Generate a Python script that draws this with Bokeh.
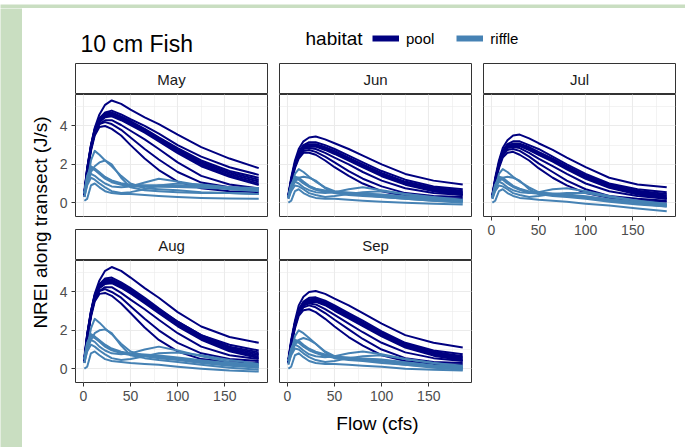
import math
from bokeh.plotting import figure
from bokeh.models import (Range1d, LinearAxis, Grid, SingleIntervalTicker, Label,
                          Legend, LegendItem)
from bokeh.layouts import row, column
from bokeh.embed import file_html
from bokeh.resources import INLINE

# ---------------- data ----------------
FLOW = [1, 4, 8, 12, 17, 23, 30, 40, 50, 65, 80, 100, 125, 155, 186]
MONTHS = ["May", "Jun", "Jul", "Aug", "Sep"]
HABITATS = ["pool", "riffle"]
TITLE = "10 cm Fish"
X_LABEL = "Flow (cfs)"
Y_LABEL = "NREI along transect (J/s)"

POOL_MAY = [
    [0.6, 1.8, 3.0, 3.9, 4.6, 5.1, 5.33, 5.15, 4.85, 4.45, 4.1, 3.55, 2.9, 2.3, 1.8],
    [0.5, 1.7, 2.9, 3.8, 4.4, 4.7, 4.8, 4.6, 4.35, 4.0, 3.6, 3.0, 2.4, 1.85, 1.45],
    [0.5, 1.8, 3.0, 3.85, 4.4, 4.65, 4.7, 4.5, 4.25, 3.85, 3.4, 2.85, 2.2, 1.65, 1.3],
    [0.45, 1.75, 2.95, 3.8, 4.35, 4.6, 4.65, 4.45, 4.2, 3.8, 3.35, 2.78, 2.12, 1.57, 1.2],
    [0.4, 1.7, 2.9, 3.75, 4.3, 4.55, 4.6, 4.4, 4.15, 3.75, 3.3, 2.72, 2.05, 1.5, 1.1],
    [0.35, 1.65, 2.85, 3.7, 4.25, 4.5, 4.55, 4.35, 4.1, 3.7, 3.25, 2.65, 1.98, 1.42, 1.0],
    [0.3, 1.6, 2.8, 3.65, 4.2, 4.45, 4.5, 4.3, 4.05, 3.65, 3.2, 2.58, 1.9, 1.35, 0.92],
    [0.5, 1.6, 2.8, 3.6, 4.1, 4.2, 4.1, 3.8, 3.4, 2.8, 2.25, 1.6, 1.05, 0.8, 0.7],
    [0.4, 1.5, 2.7, 3.5, 3.95, 4.0, 3.85, 3.5, 3.0, 2.3, 1.7, 1.1, 0.75, 0.6, 0.55],
    [0.4, 1.6, 2.8, 3.6, 4.1, 4.3, 4.3, 4.05, 3.75, 3.3, 2.8, 2.1, 1.4, 0.95, 0.75],
]
RIFFLE_MAY = [
    [0.5, 1.35, 1.85, 1.75, 1.55, 1.3, 1.12, 0.98, 0.9, 0.87, 0.87, 0.86, 0.82, 0.77, 0.72],
    [0.45, 1.3, 1.8, 1.7, 1.5, 1.25, 1.07, 0.93, 0.86, 0.83, 0.83, 0.82, 0.78, 0.73, 0.67],
    [0.55, 1.4, 1.9, 1.78, 1.58, 1.34, 1.16, 1.02, 0.94, 0.91, 0.91, 0.9, 0.86, 0.81, 0.76],
    [0.3, 1.0, 2.2, 2.7, 2.5, 2.2, 1.9, 1.4, 1.0, 0.75, 0.7, 0.65, 0.55, 0.5, 0.45],
    [0.5, 1.0, 1.6, 1.9, 2.1, 2.2, 2.0, 1.3, 0.8, 0.65, 0.6, 0.55, 0.5, 0.5, 0.45],
    [0.1, 0.2, 0.9, 1.0, 0.8, 0.6, 0.5, 0.45, 0.45, 0.4, 0.35, 0.3, 0.25, 0.22, 0.2],
    [0.5, 1.1, 1.5, 1.4, 1.2, 1.0, 0.85, 0.8, 0.85, 1.05, 1.25, 1.1, 0.9, 0.7, 0.6],
    [0.3, 0.9, 1.3, 1.2, 1.0, 0.8, 0.6, 0.5, 0.55, 0.7, 0.9, 1.0, 0.95, 0.8, 0.65],
]
POOL_JUN = [
    [0.4, 1.3, 2.2, 2.8, 3.2, 3.4, 3.45, 3.3, 3.1, 2.8, 2.45, 2.0, 1.5, 1.15, 0.95],
    [0.4, 1.2, 2.1, 2.65, 3.0, 3.15, 3.15, 3.0, 2.8, 2.45, 2.1, 1.65, 1.2, 0.85, 0.7],
    [0.35, 1.2, 2.05, 2.6, 2.95, 3.05, 3.05, 2.9, 2.7, 2.35, 2.0, 1.55, 1.1, 0.78, 0.62],
    [0.32, 1.17, 2.02, 2.57, 2.92, 3.02, 3.02, 2.87, 2.66, 2.31, 1.96, 1.5, 1.06, 0.73, 0.56],
    [0.3, 1.14, 1.99, 2.54, 2.89, 2.99, 2.99, 2.83, 2.62, 2.27, 1.92, 1.46, 1.02, 0.68, 0.5],
    [0.27, 1.11, 1.96, 2.51, 2.86, 2.96, 2.95, 2.79, 2.58, 2.23, 1.88, 1.42, 0.98, 0.64, 0.45],
    [0.25, 1.08, 1.93, 2.48, 2.83, 2.93, 2.92, 2.75, 2.54, 2.19, 1.84, 1.38, 0.94, 0.6, 0.4],
    [0.3, 1.1, 1.9, 2.4, 2.7, 2.75, 2.65, 2.4, 2.1, 1.65, 1.25, 0.85, 0.5, 0.35, 0.3],
    [0.3, 1.0, 1.8, 2.3, 2.6, 2.6, 2.5, 2.2, 1.85, 1.4, 1.0, 0.6, 0.35, 0.25, 0.2],
    [0.3, 1.1, 1.95, 2.5, 2.8, 2.85, 2.8, 2.6, 2.35, 2.0, 1.6, 1.15, 0.75, 0.5, 0.4],
]
RIFFLE_JUN = [
    [0.3, 0.9, 1.3, 1.25, 1.05, 0.85, 0.7, 0.6, 0.55, 0.5, 0.45, 0.4, 0.3, 0.2, 0.1],
    [0.27, 0.87, 1.25, 1.2, 1.0, 0.82, 0.67, 0.57, 0.52, 0.47, 0.42, 0.37, 0.27, 0.17, 0.07],
    [0.33, 0.93, 1.35, 1.3, 1.1, 0.88, 0.73, 0.63, 0.58, 0.53, 0.48, 0.43, 0.33, 0.23, 0.13],
    [0.2, 0.7, 1.5, 1.75, 1.6, 1.35, 1.1, 0.8, 0.6, 0.45, 0.4, 0.3, 0.2, 0.1, 0.05],
    [0.3, 0.7, 1.1, 1.3, 1.35, 1.3, 1.15, 0.75, 0.5, 0.4, 0.35, 0.3, 0.2, 0.1, 0.0],
    [0.0, 0.1, 0.6, 0.7, 0.5, 0.35, 0.25, 0.2, 0.2, 0.15, 0.1, 0.05, 0.0, -0.05, -0.1],
    [0.3, 0.8, 1.1, 1.0, 0.8, 0.65, 0.55, 0.5, 0.55, 0.7, 0.8, 0.65, 0.45, 0.25, 0.1],
    [0.2, 0.6, 0.9, 0.85, 0.7, 0.5, 0.4, 0.3, 0.35, 0.45, 0.55, 0.6, 0.45, 0.3, 0.15],
]
POOL_JUL = [
    [0.4, 1.3, 2.2, 2.85, 3.25, 3.5, 3.55, 3.35, 3.1, 2.75, 2.35, 1.85, 1.3, 0.95, 0.8],
    [0.4, 1.2, 2.1, 2.7, 3.05, 3.2, 3.2, 3.0, 2.8, 2.4, 2.0, 1.5, 1.0, 0.7, 0.55],
    [0.35, 1.2, 2.05, 2.65, 3.0, 3.08, 3.08, 2.9, 2.65, 2.3, 1.9, 1.42, 0.95, 0.62, 0.45],
    [0.32, 1.17, 2.02, 2.62, 2.97, 3.05, 3.05, 2.86, 2.61, 2.26, 1.86, 1.37, 0.9, 0.57, 0.38],
    [0.3, 1.14, 1.99, 2.59, 2.94, 3.02, 3.02, 2.82, 2.57, 2.22, 1.82, 1.32, 0.86, 0.52, 0.32],
    [0.27, 1.11, 1.96, 2.56, 2.91, 2.99, 2.98, 2.78, 2.53, 2.18, 1.78, 1.28, 0.82, 0.47, 0.26],
    [0.25, 1.08, 1.93, 2.53, 2.88, 2.96, 2.95, 2.74, 2.49, 2.14, 1.74, 1.24, 0.78, 0.42, 0.2],
    [0.3, 1.1, 1.9, 2.45, 2.75, 2.8, 2.7, 2.4, 2.05, 1.6, 1.15, 0.7, 0.35, 0.2, 0.1],
    [0.3, 1.0, 1.8, 2.35, 2.6, 2.65, 2.5, 2.2, 1.8, 1.3, 0.9, 0.5, 0.25, 0.1, 0.05],
    [0.3, 1.1, 1.95, 2.55, 2.85, 2.9, 2.85, 2.6, 2.3, 1.9, 1.5, 1.0, 0.6, 0.35, 0.2],
]
RIFFLE_JUL = [
    [0.3, 0.9, 1.3, 1.25, 1.05, 0.85, 0.7, 0.55, 0.5, 0.45, 0.4, 0.3, 0.15, 0.0, -0.15],
    [0.27, 0.87, 1.25, 1.2, 1.0, 0.82, 0.67, 0.52, 0.47, 0.42, 0.37, 0.27, 0.12, -0.04, -0.2],
    [0.33, 0.93, 1.35, 1.3, 1.1, 0.88, 0.73, 0.58, 0.53, 0.48, 0.43, 0.33, 0.18, 0.03, -0.1],
    [0.2, 0.7, 1.5, 1.75, 1.6, 1.35, 1.1, 0.8, 0.55, 0.4, 0.35, 0.25, 0.1, -0.05, -0.15],
    [0.3, 0.7, 1.1, 1.3, 1.35, 1.3, 1.15, 0.7, 0.45, 0.35, 0.3, 0.2, 0.05, -0.1, -0.2],
    [0.0, 0.1, 0.6, 0.7, 0.5, 0.35, 0.25, 0.2, 0.15, 0.1, 0.05, -0.05, -0.15, -0.3, -0.45],
    [0.3, 0.8, 1.1, 1.0, 0.8, 0.65, 0.55, 0.5, 0.55, 0.7, 0.75, 0.6, 0.35, 0.1, -0.1],
    [0.2, 0.6, 0.9, 0.85, 0.7, 0.5, 0.4, 0.3, 0.35, 0.45, 0.5, 0.5, 0.3, 0.1, -0.05],
]
POOL_AUG = [
    [0.6, 1.8, 3.0, 3.9, 4.6, 5.1, 5.3, 5.1, 4.75, 4.2, 3.7, 2.95, 2.2, 1.65, 1.35],
    [0.5, 1.7, 2.9, 3.8, 4.4, 4.7, 4.75, 4.5, 4.2, 3.7, 3.15, 2.45, 1.75, 1.25, 0.95],
    [0.5, 1.8, 3.0, 3.85, 4.4, 4.62, 4.66, 4.42, 4.12, 3.62, 3.1, 2.45, 1.75, 1.15, 0.85],
    [0.45, 1.75, 2.95, 3.8, 4.35, 4.57, 4.61, 4.37, 4.07, 3.57, 3.05, 2.39, 1.69, 1.09, 0.77],
    [0.4, 1.7, 2.9, 3.75, 4.3, 4.52, 4.56, 4.32, 4.02, 3.52, 3.0, 2.33, 1.63, 1.03, 0.7],
    [0.35, 1.65, 2.85, 3.7, 4.25, 4.47, 4.51, 4.27, 3.97, 3.47, 2.95, 2.27, 1.57, 0.97, 0.62],
    [0.3, 1.6, 2.8, 3.65, 4.2, 4.42, 4.46, 4.22, 3.92, 3.42, 2.9, 2.21, 1.51, 0.91, 0.55],
    [0.5, 1.6, 2.8, 3.6, 4.05, 4.15, 4.0, 3.7, 3.25, 2.6, 2.0, 1.35, 0.8, 0.5, 0.4],
    [0.4, 1.5, 2.7, 3.5, 3.9, 3.95, 3.8, 3.4, 2.9, 2.15, 1.5, 0.9, 0.5, 0.35, 0.3],
    [0.4, 1.6, 2.8, 3.6, 4.05, 4.25, 4.25, 3.95, 3.6, 3.1, 2.55, 1.85, 1.15, 0.7, 0.5],
]
RIFFLE_AUG = [
    [0.5, 1.3, 1.75, 1.65, 1.45, 1.2, 1.0, 0.85, 0.75, 0.7, 0.65, 0.55, 0.4, 0.25, 0.15],
    [0.45, 1.25, 1.7, 1.6, 1.4, 1.15, 0.96, 0.81, 0.71, 0.66, 0.61, 0.51, 0.36, 0.2, 0.08],
    [0.55, 1.35, 1.8, 1.68, 1.48, 1.25, 1.05, 0.89, 0.79, 0.74, 0.69, 0.59, 0.44, 0.29, 0.2],
    [0.3, 1.0, 2.1, 2.6, 2.4, 2.1, 1.8, 1.3, 0.9, 0.65, 0.55, 0.45, 0.3, 0.15, 0.05],
    [0.5, 1.0, 1.5, 1.85, 2.0, 2.05, 1.85, 1.2, 0.7, 0.55, 0.45, 0.35, 0.2, 0.05, -0.05],
    [0.0, 0.1, 0.8, 0.9, 0.7, 0.5, 0.4, 0.35, 0.3, 0.25, 0.2, 0.1, 0.0, -0.1, -0.15],
    [0.5, 1.1, 1.5, 1.4, 1.15, 0.95, 0.8, 0.75, 0.8, 1.0, 1.15, 0.95, 0.65, 0.35, 0.15],
    [0.3, 0.9, 1.25, 1.15, 0.95, 0.75, 0.55, 0.45, 0.5, 0.65, 0.8, 0.85, 0.7, 0.45, 0.25],
]
POOL_SEP = [
    [0.5, 1.5, 2.5, 3.3, 3.75, 4.0, 4.05, 3.9, 3.65, 3.3, 2.9, 2.35, 1.75, 1.35, 1.1],
    [0.4, 1.4, 2.4, 3.1, 3.5, 3.7, 3.72, 3.55, 3.3, 2.9, 2.5, 1.95, 1.35, 0.95, 0.75],
    [0.4, 1.4, 2.4, 3.05, 3.45, 3.62, 3.65, 3.47, 3.22, 2.82, 2.42, 1.88, 1.3, 0.88, 0.65],
    [0.37, 1.36, 2.36, 3.01, 3.41, 3.58, 3.61, 3.43, 3.17, 2.77, 2.37, 1.83, 1.25, 0.83, 0.59],
    [0.34, 1.32, 2.32, 2.97, 3.37, 3.54, 3.57, 3.39, 3.12, 2.72, 2.32, 1.78, 1.2, 0.78, 0.53],
    [0.31, 1.28, 2.28, 2.93, 3.33, 3.5, 3.53, 3.35, 3.07, 2.67, 2.27, 1.73, 1.15, 0.73, 0.47],
    [0.28, 1.24, 2.2, 2.89, 3.29, 3.46, 3.49, 3.31, 3.02, 2.62, 2.22, 1.68, 1.1, 0.68, 0.42],
    [0.4, 1.3, 2.2, 2.85, 3.2, 3.3, 3.2, 2.9, 2.55, 2.05, 1.55, 1.0, 0.55, 0.35, 0.3],
    [0.3, 1.2, 2.1, 2.75, 3.05, 3.1, 2.95, 2.6, 2.2, 1.65, 1.2, 0.7, 0.4, 0.25, 0.2],
    [0.35, 1.3, 2.3, 2.95, 3.3, 3.4, 3.35, 3.1, 2.8, 2.35, 1.9, 1.35, 0.85, 0.55, 0.4],
]
RIFFLE_SEP = [
    [0.4, 1.0, 1.45, 1.4, 1.2, 1.0, 0.85, 0.7, 0.6, 0.55, 0.5, 0.45, 0.3, 0.15, 0.05],
    [0.37, 0.97, 1.4, 1.35, 1.15, 0.96, 0.81, 0.66, 0.57, 0.52, 0.47, 0.42, 0.27, 0.12, 0.02],
    [0.43, 1.03, 1.5, 1.45, 1.25, 1.04, 0.89, 0.74, 0.63, 0.58, 0.53, 0.48, 0.33, 0.18, 0.08],
    [0.2, 0.8, 1.7, 2.0, 1.85, 1.6, 1.3, 0.9, 0.65, 0.5, 0.45, 0.35, 0.2, 0.1, 0.0],
    [0.4, 0.8, 1.25, 1.5, 1.6, 1.5, 1.3, 0.85, 0.55, 0.45, 0.4, 0.3, 0.2, 0.05, -0.05],
    [0.0, 0.1, 0.7, 0.8, 0.6, 0.4, 0.3, 0.25, 0.25, 0.2, 0.15, 0.1, 0.0, -0.05, -0.1],
    [0.4, 0.9, 1.25, 1.15, 0.95, 0.75, 0.65, 0.6, 0.65, 0.8, 0.9, 0.75, 0.5, 0.3, 0.1],
    [0.25, 0.7, 1.05, 1.0, 0.8, 0.6, 0.45, 0.35, 0.4, 0.55, 0.65, 0.7, 0.5, 0.3, 0.15],
]

POOL = {"May": POOL_MAY, "Jun": POOL_JUN, "Jul": POOL_JUL, "Aug": POOL_AUG, "Sep": POOL_SEP}
RIFFLE = {"May": RIFFLE_MAY, "Jun": RIFFLE_JUN, "Jul": RIFFLE_JUL, "Aug": RIFFLE_AUG, "Sep": RIFFLE_SEP}

# ---------------- style ----------------
FONT = "Liberation Sans"
NAVY = "#000080"
STEEL = "#4682B4"
GREEN = "#C9DEC1"
BORDER = "#333333"
GRID = "#EBEBEB"
XR = (-8.4, 195.3)
YR = (-0.72, 5.64)
FW, FH = 192, 122
STRIP_H = 31
LW = 2.0


def base_fig(w=None, h=None, **kw):
    args = dict(toolbar_location=None, output_backend="svg",
                x_axis_location=None, y_axis_location=None,
                min_border_left=0, min_border_right=0,
                min_border_top=0, min_border_bottom=0)
    if w is not None:
        args["width"] = w
    if h is not None:
        args["height"] = h
    args.update(kw)
    p = figure(**args)
    p.center = []
    p.outline_line_color = None
    p.background_fill_color = "white"
    p.border_fill_color = "white"
    return p


def style_axis(ax):
    ax.axis_line_color = None
    ax.major_tick_line_color = BORDER
    ax.major_tick_out = 4
    ax.major_tick_in = 0
    ax.minor_tick_line_color = None
    ax.major_label_standoff = 4
    ax.major_label_text_font = FONT
    ax.major_label_text_font_size = "14px"
    ax.major_label_text_color = "#4D4D4D"


def make_strip(month, bl, br):
    p = base_fig(frame_width=FW, frame_height=STRIP_H,
                 x_range=Range1d(0, 1), y_range=Range1d(0, 1),
                 min_border_left=bl, min_border_right=br)
    p.outline_line_color = BORDER
    p.outline_line_width = 1
    p.add_layout(Label(x=0.5, y=0.5, text=month, text_align="center",
                       text_baseline="middle", text_font=FONT,
                       text_font_size="15px", text_color="#1A1A1A"))
    return p


def make_panel(month, show_x, show_y, bl, br, bb):
    p = base_fig(frame_width=FW, frame_height=FH,
                 x_range=Range1d(*XR), y_range=Range1d(*YR),
                 min_border_left=bl, min_border_right=br, min_border_bottom=bb)
    p.outline_line_color = BORDER
    p.outline_line_width = 1
    xt = SingleIntervalTicker(interval=50, num_minor_ticks=2)
    yt = SingleIntervalTicker(interval=2, num_minor_ticks=2)
    for dim, t in ((0, xt), (1, yt)):
        g = Grid(dimension=dim, ticker=t, grid_line_color=GRID, grid_line_width=1.1,
                 minor_grid_line_color=GRID, minor_grid_line_width=0.6)
        p.add_layout(g, "center")
    if show_x:
        ax = LinearAxis(ticker=xt)
        style_axis(ax)
        p.add_layout(ax, "below")
    if show_y:
        ay = LinearAxis(ticker=yt)
        style_axis(ay)
        p.add_layout(ay, "left")
    pool = POOL[month]
    riff = RIFFLE[month]
    p.multi_line(xs=[FLOW] * len(pool), ys=pool, line_color=NAVY, line_width=LW,
                 line_join="round")
    p.multi_line(xs=[FLOW] * len(riff), ys=riff, line_color=STEEL, line_width=LW,
                 line_join="round")
    return p


# ---------------- layout ----------------
W, H = 685, 447
top_green = base_fig(W, 8, x_range=Range1d(0, 1), y_range=Range1d(0, 1))
top_green.background_fill_color = GREEN
top_green.border_fill_color = GREEN
left_green = base_fig(22, H - 8, x_range=Range1d(0, 1), y_range=Range1d(0, 1))
left_green.background_fill_color = GREEN
left_green.border_fill_color = GREEN

CW = W - 22
header = base_fig(CW, 55, x_range=Range1d(0, 1), y_range=Range1d(0, 1))
header.add_layout(Label(x=58, y=20, x_units="screen", y_units="screen", text=TITLE,
                        text_font=FONT, text_font_size="23px", text_color="black",
                        text_baseline="middle"))
header.add_layout(Label(x=283, y=25, x_units="screen", y_units="screen", text="habitat",
                        text_font=FONT, text_font_size="19px", text_color="black",
                        text_baseline="middle"))
# legend key renderers (their points lie outside the visible range)
r_pool = header.line(x=[-5, -4], y=[-5, -5], line_color=NAVY, line_width=6)
r_riff = header.line(x=[-5, -4], y=[-5, -5], line_color=STEEL, line_width=6)
legend = Legend(items=[LegendItem(label=HABITATS[0], renderers=[r_pool]),
                       LegendItem(label=HABITATS[1], renderers=[r_riff])],
                orientation="horizontal", location=(350, 15),
                border_line_color=None, background_fill_alpha=0,
                padding=0, margin=0, spacing=22, label_standoff=7,
                glyph_width=27, glyph_height=20, label_height=20,
                label_text_font=FONT, label_text_font_size="15px",
                label_text_color="black")
header.add_layout(legend, "center")

BODY_H = STRIP_H + FH + 13 + STRIP_H + FH + 25
ylab = base_fig(33, BODY_H, x_range=Range1d(0, 1), y_range=Range1d(0, 1))
ylab.add_layout(Label(x=18, y=BODY_H - 159, x_units="screen", y_units="screen",
                      text=Y_LABEL, angle=math.pi / 2, text_align="center",
                      text_baseline="middle", text_font=FONT,
                      text_font_size="19px", text_color="black"))

col1 = column(make_strip("May", 20, 4), make_panel("May", False, True, 20, 4, 13),
              make_strip("Aug", 20, 4), make_panel("Aug", True, True, 20, 4, 25),
              spacing=0)
col2 = column(make_strip("Jun", 8, 4), make_panel("Jun", False, False, 8, 4, 13),
              make_strip("Sep", 8, 4), make_panel("Sep", True, False, 8, 4, 25),
              spacing=0)
col3 = column(make_strip("Jul", 8, 10), make_panel("Jul", True, False, 8, 10, 25),
              spacing=0)
body = row(ylab, col1, col2, col3, spacing=0)

FOOT_H = H - 8 - 55 - BODY_H
footer = base_fig(CW, FOOT_H, x_range=Range1d(0, 1), y_range=Range1d(0, 1))
footer.add_layout(Label(x=355, y=FOOT_H - 16, x_units="screen", y_units="screen",
                        text=X_LABEL, text_align="center", text_baseline="middle",
                        text_font=FONT, text_font_size="19px", text_color="black"))

content = column(header, body, footer, spacing=0)
root = column(top_green, row(left_green, content, spacing=0), spacing=0)

open("out.html", "w").write(file_html(root, INLINE))
